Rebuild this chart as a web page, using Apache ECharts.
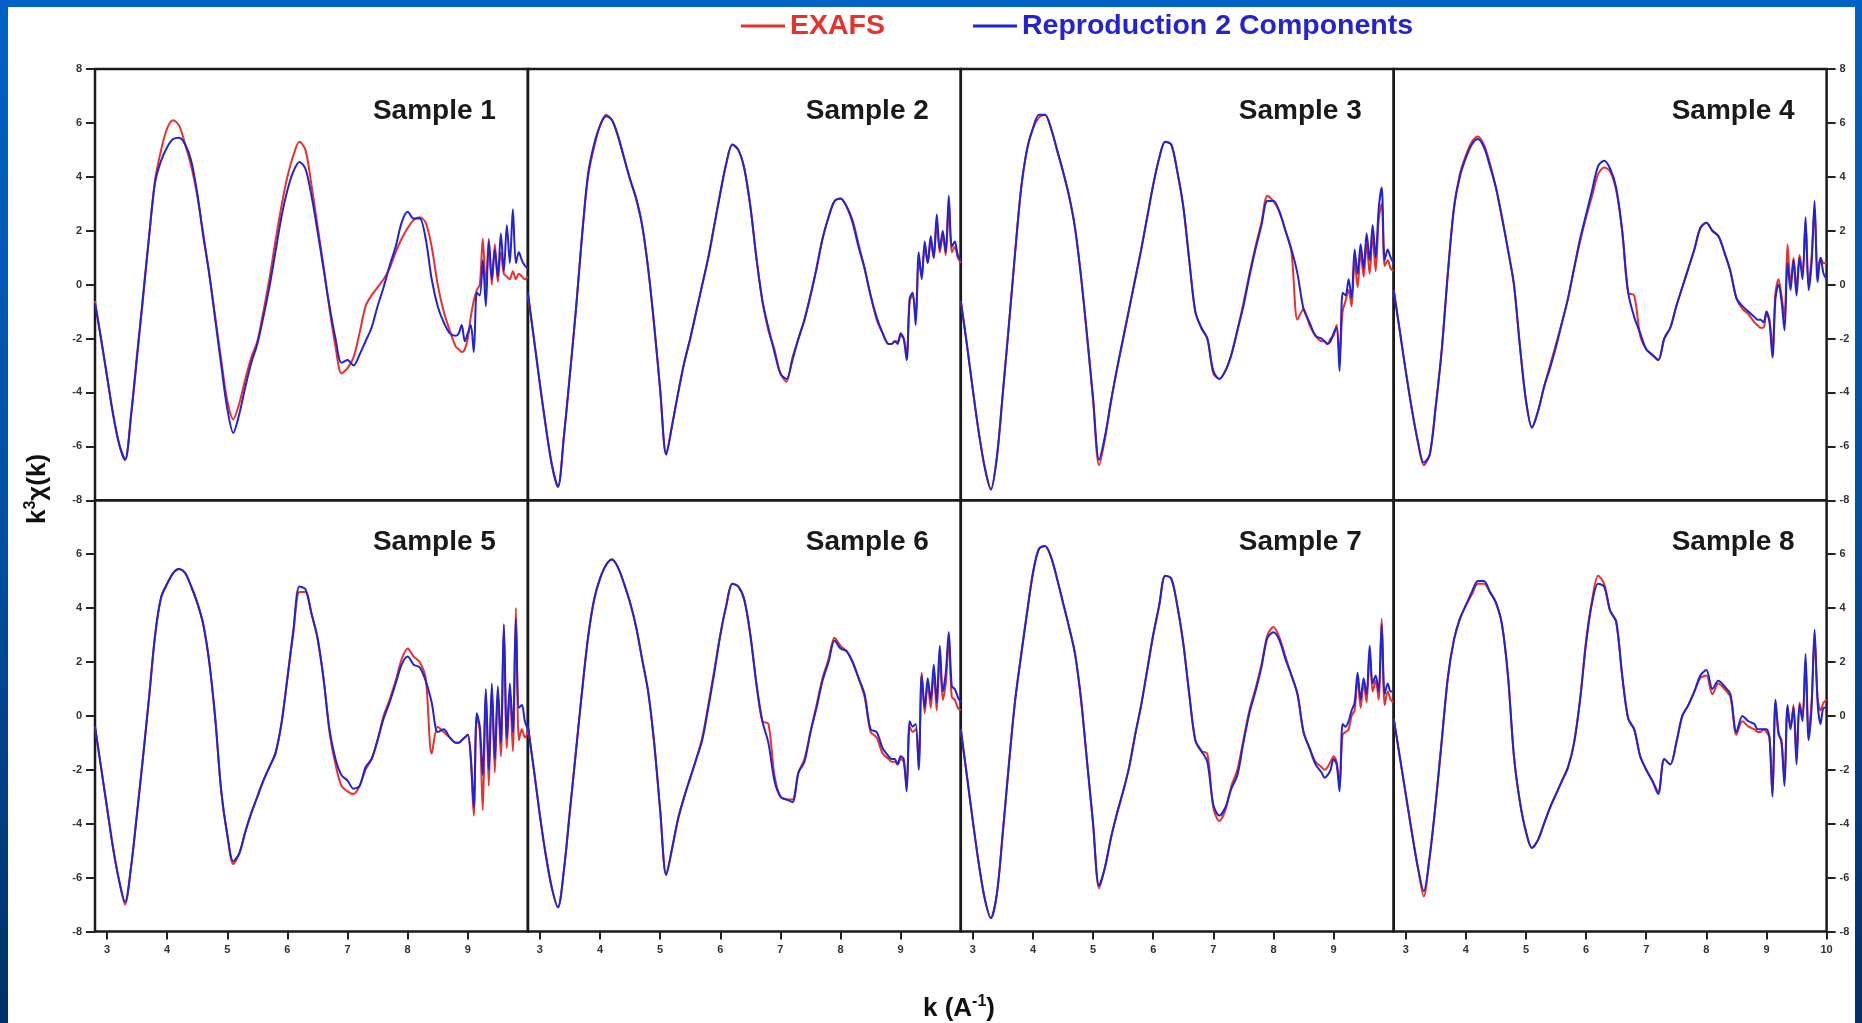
<!DOCTYPE html>
<html><head><meta charset="utf-8">
<script src="https://cdn.jsdelivr.net/npm/echarts@6.0.0/dist/echarts.min.js"></script>
<style>
html,body{margin:0;padding:0;width:1862px;height:1023px;overflow:hidden;background:linear-gradient(to bottom,#0062c6 0%,#0050a4 50%,#00306a 100%);}
#chart{position:absolute;left:8px;top:7px;width:1847px;height:1016px;background:#fff;}
</style></head><body><div id="chart"></div>
<script>
// k grid (Å^-1)
const K = [2.8,2.9,3.0,3.1,3.2,3.3,3.4,3.5,3.6,3.7,3.8,3.9,4.0,4.1,4.2,4.3,4.4,4.5,4.6,4.7,4.8,4.9,5.0,5.1,5.2,5.3,5.4,5.5,5.6,5.7,5.8,5.9,6.0,6.1,6.2,6.3,6.4,6.5,6.6,
6.7,6.8,6.9,7.0,7.1,7.2,7.3,7.4,7.5,7.6,7.7,7.8,7.9,8.0,8.1,8.2,8.3,8.4,8.5,8.6,8.7,8.8,
8.85,8.9,8.95,9.0,9.05,9.1,9.15,9.2,9.25,9.3,9.35,9.4,9.45,9.5,9.55,9.6,9.65,9.7,9.75,9.8,9.85,9.9,9.95,10.0];

const SAMPLES = ['Sample 1','Sample 2','Sample 3','Sample 4','Sample 5','Sample 6','Sample 7','Sample 8'];
const X_TICKS = [3,4,5,6,7,8,9];
const X_TICKS_LAST = [3,4,5,6,7,8,9,10];

// EXAFS (red)
const exafs1 = [-0.6,-2.0,-3.4,-4.8,-5.9,-6.5,-4.9,-2.7,-0.5,1.8,3.9,5.0,5.8,6.1,5.9,5.2,4.4,3.3,1.9,0.4,-1.2,-2.8,-4.3,-5.0,-4.4,-3.5,-2.7,-2.1,-1.0,0.2,1.6,2.9,4.0,4.8,5.3,5.0,3.7,2.2,0.7,
-0.9,-2.3,-3.3,-3.1,-2.7,-1.8,-0.8,-0.4,-0.1,0.2,0.6,1.2,1.7,2.1,2.4,2.5,2.3,1.4,0.0,-1.0,-1.7,-2.3,
-2.4,-2.5,-2.4,-2.0,-1.2,-0.6,-0.2,0.0,1.7,-0.1,1.7,0.0,1.5,0.1,1.2,0.4,0.3,0.2,0.5,0.2,0.4,0.3,0.2,0.3];
const exafs2 = [-0.4,-2.0,-3.7,-5.3,-6.7,-7.5,-5.6,-3.3,-0.9,1.8,4.0,5.1,5.9,6.3,6.1,5.5,4.7,3.9,3.2,2.2,0.6,-1.5,-3.9,-6.3,-5.2,-4.0,-2.9,-2.0,-1.0,0.0,1.0,2.2,3.4,4.5,5.2,5.0,4.3,2.9,1.0,
-0.6,-1.7,-2.4,-3.3,-3.6,-2.7,-2.0,-1.3,-0.4,0.6,1.7,2.5,3.1,3.2,2.9,2.4,1.5,0.6,-0.4,-1.3,-1.8,-2.2,
-2.2,-2.1,-2.1,-1.9,-2.0,-2.6,-0.6,-0.4,-1.2,1.0,0.3,1.4,0.8,1.6,1.0,2.3,1.2,1.8,1.1,3.0,1.2,1.4,1.0,0.8];
const exafs3 = [-0.6,-2.2,-3.9,-5.5,-6.8,-7.6,-6.4,-4.0,-1.5,1.1,3.5,5.0,5.8,6.2,6.3,5.8,5.0,4.2,3.3,2.1,0.3,-1.9,-4.3,-6.7,-5.7,-4.3,-3.1,-2.0,-0.9,0.2,1.3,2.5,3.7,4.7,5.3,5.2,4.2,2.9,0.9,
-1.0,-1.6,-2.0,-3.3,-3.5,-3.2,-2.6,-1.7,-0.7,0.4,1.4,2.3,3.3,3.1,2.7,2.0,1.2,-1.3,-0.9,-1.5,-1.9,-2.1,
-2.1,-2.2,-2.0,-1.9,-1.5,-2.6,-1.0,-0.6,-0.2,-0.8,0.9,-0.1,1.2,0.3,1.5,0.4,1.8,0.5,2.4,3.0,0.7,0.9,0.6,0.5];
const exafs4 = [-0.2,-1.7,-3.2,-4.6,-5.8,-6.7,-6.3,-4.5,-2.4,0.4,2.8,4.1,4.8,5.3,5.5,5.2,4.5,3.6,2.5,1.3,0.0,-2.3,-4.3,-5.3,-4.7,-3.8,-3.0,-2.2,-1.4,-0.5,0.6,1.6,2.5,3.3,4.1,4.35,4.2,3.5,2.0,
-0.3,-0.4,-1.9,-2.4,-2.6,-2.8,-2.0,-1.6,-0.8,-0.1,0.6,1.3,2.1,2.3,2.0,1.8,1.2,0.5,-0.5,-0.9,-1.1,-1.4,
-1.5,-1.6,-1.6,-1.1,-1.3,-2.4,-0.3,0.2,-0.4,-1.2,1.5,0.0,1.0,-0.2,1.1,0.4,2.3,0.0,1.0,2.8,0.5,1.0,0.8,0.8];
const exafs5 = [-0.4,-1.9,-3.4,-4.9,-6.1,-7.0,-5.6,-3.6,-1.5,0.7,3.0,4.4,4.9,5.3,5.45,5.3,4.8,4.2,3.4,2.0,-0.1,-2.8,-4.4,-5.5,-5.1,-4.3,-3.6,-3.0,-2.4,-1.9,-1.4,-0.3,1.4,3.1,4.6,4.6,3.8,2.9,1.4,
-0.6,-1.8,-2.6,-2.8,-2.9,-2.6,-2.0,-1.6,-0.9,0.0,0.6,1.3,2.1,2.5,2.2,2.0,1.4,-1.4,-0.4,-0.6,-0.8,-1.0,
-1.0,-0.9,-0.8,-0.7,-1.6,-3.7,0.0,-0.6,-3.5,0.9,-2.6,1.0,-2.1,0.9,-1.5,3.3,-1.2,0.9,-1.3,4.0,-0.9,-0.5,-0.8,-0.6];
const exafs6 = [-0.4,-2.0,-3.7,-5.2,-6.4,-7.1,-5.7,-3.5,-1.3,0.9,2.9,4.3,5.1,5.6,5.8,5.5,4.9,4.2,3.3,2.1,0.9,-1.0,-3.5,-5.9,-4.9,-3.8,-3.0,-2.3,-1.6,-0.8,0.4,1.7,3.0,4.1,4.9,4.8,4.3,3.0,1.2,
-0.2,-0.3,-2.2,-3.0,-3.1,-3.1,-2.1,-1.6,-0.6,0.4,1.4,2.1,2.9,2.6,2.4,2.0,1.4,0.7,-0.6,-0.8,-1.4,-1.6,
-1.7,-1.7,-1.8,-1.6,-1.7,-2.6,-0.4,-0.6,-0.5,-1.7,1.6,0.1,1.2,0.3,1.6,0.2,2.3,0.6,1.2,2.8,0.7,0.6,0.3,0.2];
const exafs7 = [-0.5,-2.2,-3.9,-5.5,-6.8,-7.5,-6.6,-4.3,-1.8,0.5,2.2,3.8,5.3,6.2,6.3,5.9,5.1,4.2,3.3,2.3,0.6,-1.7,-4.0,-6.4,-5.6,-4.5,-3.6,-2.8,-1.9,-0.7,0.4,1.7,3.0,4.1,5.2,5.1,4.1,2.7,0.8,
-0.9,-1.3,-1.4,-3.4,-3.9,-3.5,-2.6,-2.0,-0.9,0.2,1.0,1.9,3.0,3.3,2.9,2.2,1.5,0.8,-0.6,-1.2,-1.7,-1.9,
-2.0,-1.9,-1.7,-1.5,-1.7,-2.5,-0.7,-0.6,-0.5,0.0,0.2,1.4,0.3,1.2,0.5,2.4,0.9,1.3,0.6,3.6,0.4,0.9,0.6,0.5];
const exafs8 = [-0.1,-1.5,-2.9,-4.3,-5.6,-6.7,-5.2,-3.2,-0.9,1.4,2.8,3.6,4.1,4.5,4.9,4.9,4.6,4.2,3.4,1.5,-1.5,-3.2,-4.3,-4.9,-4.6,-4.0,-3.4,-2.9,-2.4,-1.9,-1.0,0.6,2.8,4.3,5.2,4.9,3.9,3.5,1.5,
-0.1,-0.5,-1.5,-2.0,-2.4,-2.8,-1.6,-1.8,-1.0,0.0,0.4,0.9,1.4,1.5,0.8,1.2,1.0,0.7,-0.7,-0.2,-0.4,-0.5,
-0.6,-0.6,-0.5,-0.6,-0.8,-2.9,0.5,-0.7,-0.9,-2.4,0.3,-0.4,0.4,-1.5,0.5,0.0,2.0,-0.6,0.5,2.9,0.7,0.2,0.5,0.6];

// Reproduction 2 Components (blue)
const repro1 = [-0.7,-2.0,-3.4,-4.8,-5.9,-6.5,-4.8,-2.6,-0.4,1.8,3.8,4.6,5.1,5.4,5.45,5.2,4.6,3.4,1.8,0.4,-1.3,-3.0,-4.6,-5.5,-4.8,-3.8,-2.9,-2.2,-1.2,-0.1,1.2,2.5,3.5,4.2,4.55,4.3,3.3,2.0,0.6,
-0.8,-2.0,-2.9,-2.8,-3.0,-2.6,-2.1,-1.6,-0.8,-0.1,0.7,1.4,2.3,2.7,2.45,2.45,1.7,0.2,-0.8,-1.4,-1.8,-1.9,
-1.8,-1.5,-2.1,-1.8,-1.5,-2.5,-0.3,-0.4,0.9,-0.8,1.6,0.2,1.3,0.3,1.9,0.5,2.2,0.8,2.8,0.8,1.2,0.9,0.7,0.6];
const repro2 = [-0.3,-2.0,-3.7,-5.3,-6.7,-7.5,-5.6,-3.3,-0.9,1.8,4.1,5.2,5.9,6.25,6.1,5.5,4.7,3.9,3.2,2.2,0.6,-1.5,-3.9,-6.3,-5.2,-4.0,-2.9,-2.0,-1.0,0.0,1.0,2.2,3.4,4.5,5.2,5.0,4.3,2.9,1.0,
-0.6,-1.6,-2.5,-3.3,-3.5,-2.8,-2.0,-1.3,-0.4,0.6,1.7,2.5,3.1,3.2,2.9,2.3,1.4,0.6,-0.4,-1.2,-1.8,-2.2,
-2.2,-2.1,-2.2,-1.8,-2.0,-2.8,-0.5,-0.3,-1.5,1.2,0.2,1.6,0.8,1.8,1.0,2.6,1.3,2.0,1.2,3.3,1.4,1.6,1.1,0.9];
const repro3 = [-0.6,-2.2,-3.9,-5.5,-6.8,-7.6,-6.4,-4.0,-1.5,1.1,3.5,5.0,5.8,6.3,6.3,5.8,5.0,4.2,3.3,2.1,0.3,-1.9,-4.2,-6.5,-5.6,-4.3,-3.1,-2.0,-0.9,0.2,1.3,2.5,3.7,4.7,5.3,5.2,4.2,2.9,0.9,
-1.0,-1.6,-2.0,-3.2,-3.5,-3.2,-2.6,-1.7,-0.8,0.3,1.3,2.2,3.1,3.1,2.7,2.0,1.3,0.4,-0.9,-1.4,-1.9,-2.0,
-2.1,-2.2,-2.1,-1.8,-1.6,-3.2,-0.3,-0.4,0.2,-0.5,1.3,0.4,1.5,0.6,1.9,0.9,2.2,1.0,2.8,3.6,0.9,1.3,1.0,0.8];
const repro4 = [-0.2,-1.7,-3.2,-4.6,-5.8,-6.6,-6.3,-4.5,-2.4,0.4,2.8,4.0,4.7,5.2,5.4,5.1,4.4,3.6,2.5,1.3,0.0,-2.3,-4.3,-5.3,-4.7,-3.8,-3.1,-2.3,-1.4,-0.5,0.6,1.7,2.6,3.5,4.4,4.6,4.3,3.6,2.0,
-0.3,-1.2,-1.8,-2.4,-2.6,-2.8,-2.0,-1.6,-0.8,-0.1,0.6,1.3,2.1,2.3,2.0,1.8,1.2,0.5,-0.5,-0.8,-1.0,-1.2,
-1.3,-1.3,-1.4,-1.0,-1.4,-2.7,-0.5,0.0,-0.6,-1.7,0.8,-0.2,0.9,-0.4,1.0,0.2,2.5,-0.2,0.8,3.1,0.1,1.0,0.4,0.2];
const repro5 = [-0.4,-1.9,-3.4,-4.9,-6.1,-6.9,-5.6,-3.6,-1.5,0.7,3.0,4.4,4.9,5.3,5.45,5.3,4.8,4.2,3.4,2.0,-0.1,-2.8,-4.4,-5.4,-5.1,-4.3,-3.6,-3.0,-2.4,-1.9,-1.4,-0.3,1.4,3.2,4.8,4.7,3.8,2.9,1.4,
-0.5,-1.6,-2.2,-2.4,-2.7,-2.6,-1.9,-1.6,-0.9,-0.1,0.5,1.2,1.9,2.2,1.9,1.8,1.3,0.5,-0.6,-0.5,-0.8,-1.0,
-1.0,-0.9,-0.8,-0.7,-1.5,-3.4,0.1,-0.4,-2.2,1.0,-2.0,1.2,-1.6,1.1,-1.0,3.4,-0.8,1.2,-0.6,3.6,0.3,0.4,-0.2,-0.5];
const repro6 = [-0.35,-2.0,-3.7,-5.2,-6.4,-7.1,-5.7,-3.5,-1.3,0.9,2.9,4.3,5.1,5.6,5.8,5.5,4.9,4.2,3.3,2.1,0.9,-1.0,-3.5,-5.9,-4.9,-3.8,-3.0,-2.3,-1.6,-0.9,0.3,1.6,3.0,4.1,4.9,4.8,4.3,3.0,1.2,
-0.2,-1.0,-2.4,-3.0,-3.1,-3.2,-2.1,-1.7,-0.6,0.3,1.3,2.0,2.8,2.5,2.4,2.0,1.4,0.8,-0.5,-0.6,-1.2,-1.5,
-1.6,-1.6,-1.8,-1.5,-1.6,-2.8,-0.2,-0.4,-0.3,-2.0,1.5,0.3,1.4,0.6,1.9,0.5,2.6,0.9,1.6,3.1,1.1,1.0,0.7,0.5];
const repro7 = [-0.5,-2.2,-3.9,-5.5,-6.8,-7.5,-6.6,-4.3,-1.8,0.5,2.2,3.8,5.3,6.2,6.3,5.9,5.1,4.2,3.3,2.3,0.6,-1.7,-4.0,-6.3,-5.6,-4.5,-3.6,-2.8,-1.9,-0.7,0.4,1.7,3.0,4.1,5.2,5.1,4.1,2.7,0.8,
-0.9,-1.3,-1.7,-3.3,-3.7,-3.4,-2.7,-2.2,-1.0,0.1,0.9,1.8,2.9,3.1,2.8,2.1,1.5,0.8,-0.6,-1.2,-1.8,-2.1,
-2.3,-2.2,-2.0,-1.6,-1.8,-2.8,-0.3,-0.4,-0.2,0.2,0.5,1.6,0.6,1.4,0.8,2.6,1.2,1.5,0.9,3.4,0.8,1.2,0.9,0.9];
const repro8 = [-0.1,-1.5,-2.9,-4.3,-5.6,-6.5,-5.2,-3.2,-0.9,1.4,2.8,3.6,4.1,4.6,5.0,5.0,4.6,4.2,3.4,1.5,-1.5,-3.2,-4.3,-4.9,-4.6,-4.0,-3.4,-2.9,-2.4,-1.9,-1.0,0.6,2.7,4.2,4.9,4.8,3.9,3.5,1.5,
-0.1,-0.5,-1.5,-2.0,-2.4,-2.9,-1.6,-1.8,-1.0,0.0,0.4,0.9,1.5,1.7,1.0,1.3,1.1,0.8,-0.6,0.0,-0.2,-0.3,
-0.5,-0.5,-0.5,-0.5,-0.8,-3.0,0.6,-0.6,-1.0,-2.6,0.4,-0.5,0.3,-1.8,0.4,-0.2,2.3,-0.9,0.3,3.2,0.5,-0.3,0.3,0.3];

const EXAFS = [exafs1,exafs2,exafs3,exafs4,exafs5,exafs6,exafs7,exafs8];
const REPRO = [repro1,repro2,repro3,repro4,repro5,repro6,repro7,repro8];

const RED = '#e8302c', BLUE = '#2323d2';
const FONT = '"Liberation Sans", Arial, sans-serif';
const COL_L = 87, COL_W = 432.9, ROW_T = 62, ROW_H = 431.25;

const grids = [], xAxes = [], yAxes = [], series = [], graphics = [];
for (let i = 0; i < 8; i++) {
  const r = Math.floor(i / 4), c = i % 4;
  grids.push({left: COL_L + c * COL_W, top: ROW_T + r * ROW_H, width: COL_W, height: ROW_H,
    show: true, borderColor: '#1a1a1a', borderWidth: 2.5, backgroundColor: 'transparent'});
  const xt = c === 3 ? X_TICKS_LAST : X_TICKS;
  xAxes.push({gridIndex: i, type: 'value', min: 2.8, max: 10, position: 'bottom',
    axisLine: {show: false, onZero: false}, splitLine: {show: false},
    axisTick: {show: r === 1, inside: false, length: 8, customValues: xt, lineStyle: {color: '#222', width: 2}},
    axisLabel: {show: r === 1, customValues: xt, margin: 13, fontSize: 11, fontWeight: 'bold', color: '#333', fontFamily: FONT}});
  const showY = (c === 0 || c === 3);
  yAxes.push({gridIndex: i, type: 'value', min: -8, max: 8, interval: 2, position: c === 3 ? 'right' : 'left',
    axisLine: {show: false, onZero: false}, splitLine: {show: false},
    axisTick: {show: showY, inside: false, length: 9, lineStyle: {color: '#222', width: 2}},
    axisLabel: {show: showY, showMaxLabel: r === 0, margin: 13, fontSize: 11, fontWeight: 'bold', color: '#333', fontFamily: FONT}});
  series.push({name: 'EXAFS', type: 'line', xAxisIndex: i, yAxisIndex: i, symbol: 'none', showSymbol: false, z: 2, smooth: 0.3,
    lineStyle: {width: 2, color: RED}, itemStyle: {color: RED}, data: K.map((k, j) => [k, EXAFS[i][j]])});
  series.push({name: 'Reproduction 2 Components', type: 'line', xAxisIndex: i, yAxisIndex: i, symbol: 'none', showSymbol: false, z: 3, smooth: 0.3,
    lineStyle: {width: 2, color: BLUE}, itemStyle: {color: BLUE}, data: K.map((k, j) => [k, REPRO[i][j]])});
  graphics.push({type: 'text', x: COL_L + (c + 1) * COL_W - 32, y: ROW_T + r * ROW_H + 42, z: 10,
    style: {text: SAMPLES[i], fill: '#1a1a1a', fontSize: 28, fontWeight: 'bold', fontFamily: FONT, align: 'right', verticalAlign: 'middle'}});
}
graphics.push({type: 'text', x: 30, y: 482, rotation: Math.PI / 2, z: 10,
  style: {text: '{a|k}{s|3}{a|χ(k)}', align: 'center', verticalAlign: 'middle',
    rich: {a: {fontSize: 26, fontWeight: 'bold', fontFamily: FONT, fill: '#111', lineHeight: 30},
           s: {fontSize: 16, fontWeight: 'bold', fontFamily: FONT, fill: '#111', verticalAlign: 'top', lineHeight: 16}}}});
graphics.push({type: 'text', x: 951, y: 1002, z: 10,
  style: {text: '{a|k (A}{s|-1}{a|)}', align: 'center', verticalAlign: 'middle',
    rich: {a: {fontSize: 26, fontWeight: 'bold', fontFamily: FONT, fill: '#111', lineHeight: 30},
           s: {fontSize: 16, fontWeight: 'bold', fontFamily: FONT, fill: '#111', verticalAlign: 'top', lineHeight: 16}}}});

const chart = echarts.init(document.getElementById('chart'), null, {renderer: 'canvas'});
chart.setOption({
  animation: false,
  backgroundColor: '#fff',
  legend: {top: 4, left: 733, padding: 0, itemGap: 88, itemWidth: 44, itemHeight: 3, icon: 'rect', selectedMode: false,
    data: [{name: 'EXAFS', textStyle: {color: RED}}, {name: 'Reproduction 2 Components', textStyle: {color: BLUE}}],
    textStyle: {fontSize: 28.5, fontWeight: 'bold', fontFamily: FONT, lineHeight: 30}},
  grid: grids, xAxis: xAxes, yAxis: yAxes, series: series, graphic: graphics
});
</script></body></html>
